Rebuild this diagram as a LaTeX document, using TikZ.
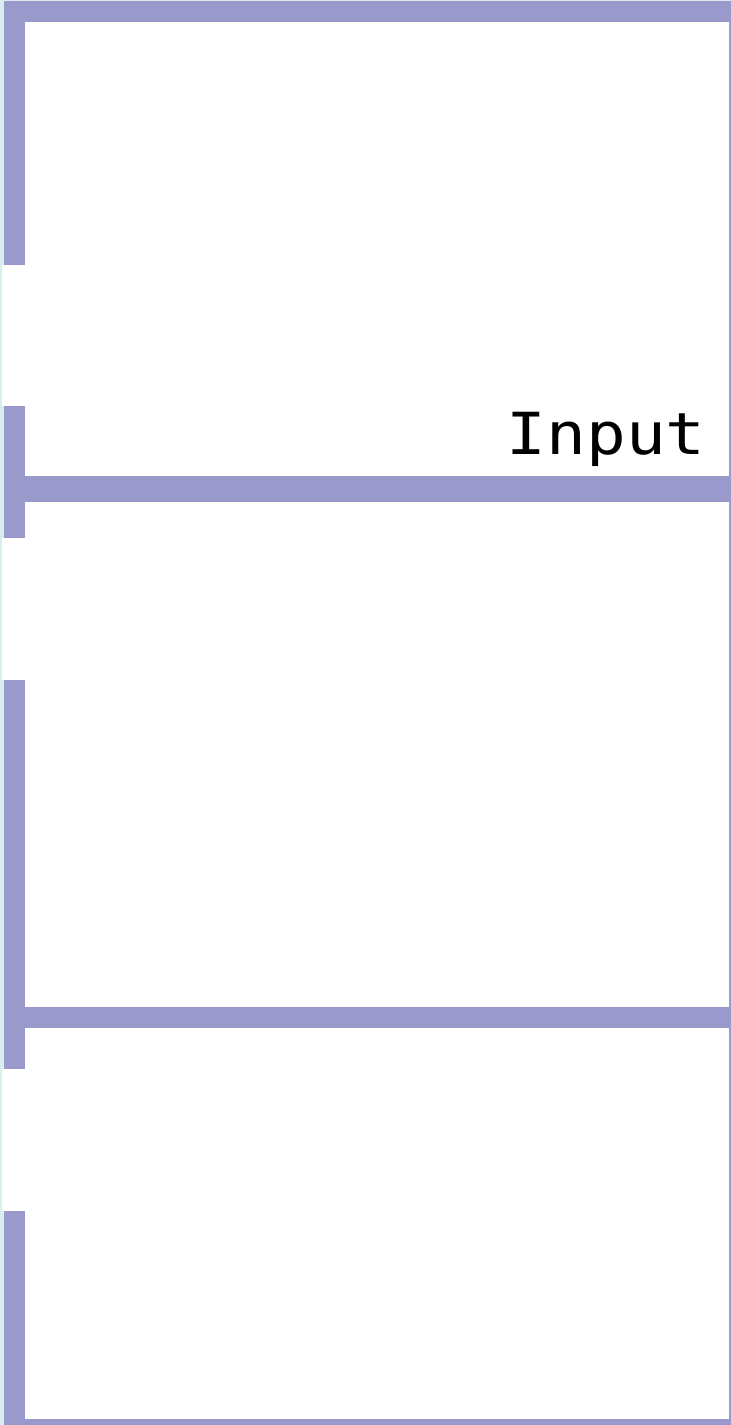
\documentclass[tikz,border=0pt]{standalone}
\usepackage{fontspec}
\newfontfamily\lanefont{DejaVu Sans Mono}
\definecolor{lanepurple}{RGB}{153,153,204}
\definecolor{paleaqua}{RGB}{218,238,240}
\usetikzlibrary{positioning}

\begin{document}
\begin{tikzpicture}[
    x=1pt, y=-1pt,
    bar/.style={fill=lanepurple, draw=none},
    gapbox/.style={fill=white, draw=none},
    lanelabel/.style={font=\lanefont\fontsize{58}{60}\selectfont, inner sep=0pt, anchor=base east, xscale=1.14}
]
    \useasboundingbox (0,0) rectangle (731,1425);
    \fill[paleaqua] (0,0) rectangle (731,1425);
    \fill[white] (4,1) rectangle (731,1425);

    % borders of the three lanes
    \fill[bar] (4,1) rectangle (731,22);
    \fill[bar] (4,476) rectangle (731,502);
    \fill[bar] (4,1007) rectangle (731,1028);
    \fill[bar] (4,1419) rectangle (731,1425);
    \fill[bar] (729,1) rectangle (731,1425);
    \fill[bar] (4,1) rectangle (25,265);
    \fill[bar] (4,406) rectangle (25,538);
    \fill[bar] (4,680) rectangle (25,1069);
    \fill[bar] (4,1211) rectangle (25,1419);

    % openings in the left border
    \fill[gapbox] (2,265) rectangle (25,406);
    \fill[gapbox] (2,538) rectangle (25,680);
    \fill[gapbox] (2,1069) rectangle (25,1211);

    \node[lanelabel] (input) at (706,454) {Input};
\end{tikzpicture}
\end{document}
